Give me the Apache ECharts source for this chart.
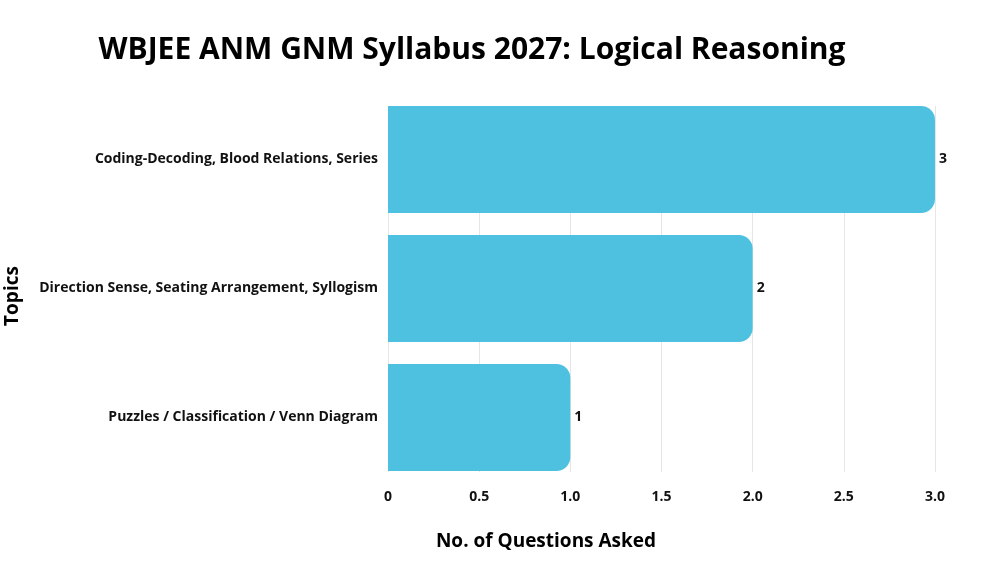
<!DOCTYPE html>
<html>
<head>
<meta charset="utf-8">
<script src="https://cdn.jsdelivr.net/npm/echarts@6/dist/echarts.min.js"></script>
<style>
  html, body { margin: 0; padding: 0; background: #fff; }
  #main { width: 990px; height: 572px; }
</style>
</head>
<body>
<div id="main"></div>
<script>
// data
var topics = [
    'Puzzles / Classification / Venn Diagram',
    'Direction Sense, Seating Arrangement, Syllogism',
    'Coding-Decoding, Blood Relations, Series'
];
var questions = [1, 2, 3];
var xTicks = [0, 0.5, 1.0, 1.5, 2.0, 2.5, 3.0];

var FONT = 'Open Sans';
var chart = echarts.init(document.getElementById('main'));

chart.setOption({
    backgroundColor: '#fff',
    animation: false,
    title: [{
        text: 'WBJEE ANM GNM Syllabus 2027: Logical Reasoning',
        left: 467,
        top: 30,
        textAlign: 'center',
        textStyle: { fontFamily: FONT, fontSize: 30, fontWeight: 'bold', color: '#000' }
    }, {
        text: 'No. of Questions Asked',
        left: 541,
        top: 527,
        textAlign: 'center',
        textStyle: { fontFamily: FONT, fontSize: 19, fontWeight: 'bold', color: '#000' }
    }],
    graphic: [{
        type: 'text',
        x: 13,
        y: 296,
        rotation: Math.PI / 2,
        style: { text: 'Topics', font: 'bold 19px "Open Sans"', fill: '#000', textAlign: 'center', textVerticalAlign: 'middle' }
    }],
    // grid 0 holds the bars, grid 1 only draws the vertical gridlines (they stop at the bar edges)
    grid: [
        { left: 388, right: 55, top: 95, bottom: 90, containLabel: false },
        { left: 388, right: 55, top: 106, bottom: 100, containLabel: false }
    ],
    xAxis: [{
        type: 'value',
        gridIndex: 0,
        min: 0,
        max: 3,
        interval: 0.5,
        axisLine: { show: false },
        axisTick: { show: false },
        splitLine: { show: false },
        axisLabel: {
            margin: 8,
            fontFamily: FONT, fontSize: 14, fontWeight: 'bold', color: '#111',
            formatter: function (v) { return v === 0 ? '0' : v.toFixed(1); }
        }
    }, {
        type: 'value',
        gridIndex: 1,
        min: 0,
        max: 3,
        interval: 0.5,
        axisLine: { show: false },
        axisTick: { show: false },
        axisLabel: { show: false },
        splitLine: { show: true, lineStyle: { color: '#e6e6e6', width: 1 } }
    }],
    yAxis: [{
        type: 'category',
        gridIndex: 0,
        data: topics,
        axisLine: { show: false },
        axisTick: { show: false },
        axisLabel: {
            margin: 10,
            fontFamily: FONT, fontSize: 14, fontWeight: 'bold', color: '#111'
        }
    }, {
        type: 'category',
        gridIndex: 1,
        data: topics,
        show: false
    }],
    series: [{
        type: 'bar',
        xAxisIndex: 0,
        yAxisIndex: 0,
        data: questions,
        barCategoryGap: '17%',
        itemStyle: { color: '#4fc1e0', borderRadius: [0, 14, 14, 0] },
        label: {
            show: true,
            position: 'right',
            distance: 4,
            fontFamily: FONT, fontSize: 14, fontWeight: 'bold', color: '#111'
        }
    }]
});
</script>
</body>
</html>
